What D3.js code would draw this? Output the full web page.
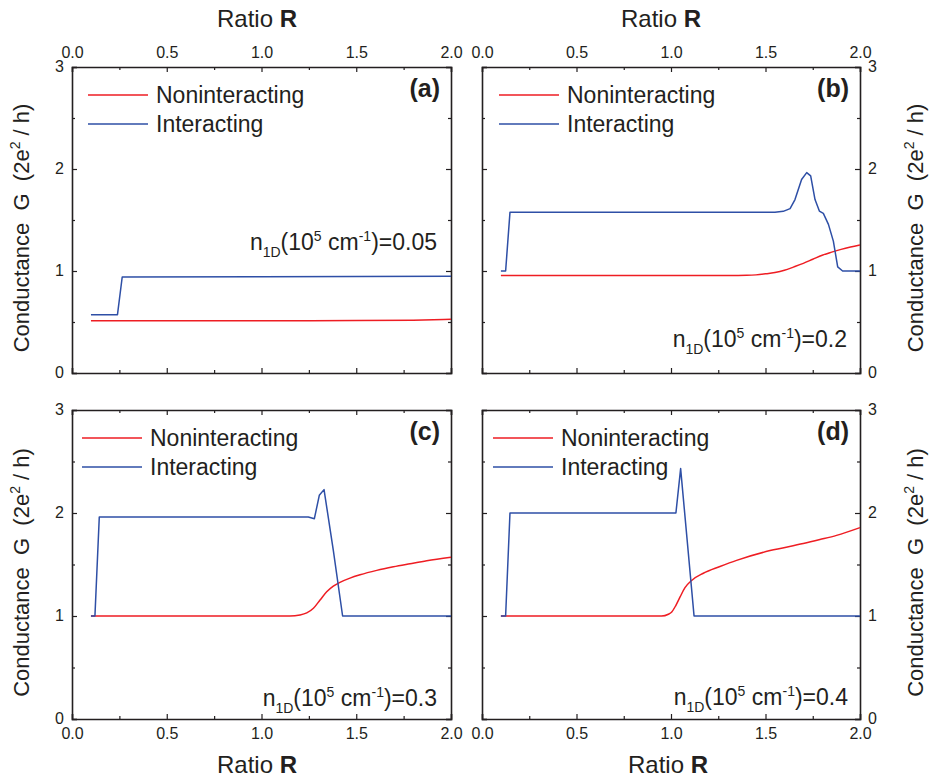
<!DOCTYPE html>
<html>
<head>
<meta charset="utf-8">
<script src="https://cdn.jsdelivr.net/npm/d3@7"></script>
<style>
  html, body { margin: 0; padding: 0; background: #fff; }
  svg { display: block; }
  text { font-family: "Liberation Sans", Arial, Helvetica, sans-serif; fill: #231f20; }
</style>
</head>
<body>
<svg id="chart" width="932" height="781"></svg>
<script>
// ---- data ---------------------------------------------------------------
const ratioTicks = [0, 0.5, 1.0, 1.5, 2.0];
const ratioMinor = [0.25, 0.75, 1.25, 1.75];
const gTicks = [0, 1, 2, 3];
const gMinor = [0.5, 1.5, 2.5];
const panelLabels = ["(a)", "(b)", "(c)", "(d)"];
const densities = ["0.05", "0.2", "0.3", "0.4"];
const seriesNames = ["Noninteracting", "Interacting"];

// (a) n1D = 0.05
const rA_non = [0.1, 0.5, 1.0, 1.5, 1.8, 2.0];
const gA_non = [0.513, 0.513, 0.513, 0.514, 0.518, 0.526];
const rA_int = [0.1, 0.24, 0.265, 1.0, 2.0];
const gA_int = [0.572, 0.572, 0.941, 0.943, 0.948];

// (b) n1D = 0.2
const rB_non = [0.1, 0.5, 1.0, 1.3, 1.4, 1.45, 1.5, 1.55, 1.6, 1.65, 1.7, 1.75, 1.8, 1.85, 1.9, 1.95, 2.0];
const gB_non = [0.955, 0.955, 0.955, 0.956, 0.958, 0.962, 0.972, 0.985, 1.007, 1.04, 1.075, 1.115, 1.155, 1.185, 1.212, 1.235, 1.255];
const rB_int = [0.1, 0.125, 0.148, 1.0, 1.55, 1.594, 1.63, 1.656, 1.691, 1.718, 1.739, 1.762, 1.785, 1.806, 1.833, 1.859, 1.882, 1.908, 2.0];
const gB_int = [1.0, 1.0, 1.575, 1.575, 1.576, 1.585, 1.612, 1.70, 1.897, 1.965, 1.932, 1.70, 1.588, 1.565, 1.457, 1.293, 1.04, 1.0, 1.0];

// (c) n1D = 0.3
const rC_non = [0.1, 0.6, 1.15, 1.203, 1.239, 1.274, 1.309, 1.344, 1.379, 1.414, 1.467, 1.52, 1.608, 1.696, 1.784, 1.872, 2.0];
const gC_non = [1.0, 1.0, 1.0, 1.01, 1.03, 1.075, 1.155, 1.235, 1.29, 1.327, 1.368, 1.40, 1.443, 1.478, 1.508, 1.537, 1.57];
const rC_int = [0.1, 0.121, 0.144, 1.247, 1.279, 1.305, 1.33, 1.379, 1.428, 2.0];
const gC_int = [1.0, 1.0, 1.961, 1.961, 1.945, 2.172, 2.227, 1.638, 1.0, 1.0];

// (d) n1D = 0.4
const rD_non = [0.1, 0.6, 0.95, 0.986, 1.004, 1.026, 1.048, 1.074, 1.109, 1.171, 1.259, 1.347, 1.524, 1.7, 1.788, 1.876, 2.0];
const gD_non = [1.0, 1.0, 1.0, 1.017, 1.039, 1.104, 1.185, 1.275, 1.345, 1.415, 1.48, 1.54, 1.635, 1.703, 1.742, 1.783, 1.858];
const rD_int = [0.1, 0.125, 0.148, 1.026, 1.051, 1.122, 2.0];
const gD_int = [1.0, 1.0, 2.0, 2.0, 2.431, 1.0, 1.0];

const seriesData = [
  [[rA_non, gA_non], [rA_int, gA_int]],
  [[rB_non, gB_non], [rB_int, gB_int]],
  [[rC_non, gC_non], [rC_int, gC_int]],
  [[rD_non, gD_non], [rD_int, gD_int]]
];

// ---- layout -------------------------------------------------------------
const frames = [
  { x0: 72,  x1: 451, y0: 67,  y1: 373, xLab: "top",    yLab: "left",  legX: 88,  noteX: 437, noteY: 250 },
  { x0: 482, x1: 860, y0: 67,  y1: 373, xLab: "top",    yLab: "right", legX: 499, noteX: 847, noteY: 347 },
  { x0: 72,  x1: 451, y0: 410, y1: 719, xLab: "bottom", yLab: "left",  legX: 82,  noteX: 437, noteY: 706 },
  { x0: 482, x1: 860, y0: 410, y1: 719, xLab: "bottom", yLab: "right", legX: 493, noteX: 848, noteY: 705 }
];
const colors = ["#ee1d23", "#2e4fa6"];
const axisColor = "#231f20";

const svg = d3.select("#chart");

frames.forEach((f, i) => {
  const x = d3.scaleLinear().domain([0, 2]).range([f.x0, f.x1]);
  const y = d3.scaleLinear().domain([0, 3]).range([f.y1, f.y0]);
  const g = svg.append("g");

  // axes on all four sides, ticks pointing inward
  const fmtX = d3.format(".1f");
  const fmtY = d3.format("d");
  const sides = [
    { make: () => d3.axisTop(x),    tr: `translate(0,${f.y0})`, major: ratioTicks, minor: ratioMinor, show: f.xLab === "top",    fmt: fmtX, pad: 9,  vert: false },
    { make: () => d3.axisBottom(x), tr: `translate(0,${f.y1})`, major: ratioTicks, minor: ratioMinor, show: f.xLab === "bottom", fmt: fmtX, pad: 9,  vert: false },
    { make: () => d3.axisLeft(y),   tr: `translate(${f.x0},0)`, major: gTicks,     minor: gMinor,     show: f.yLab === "left",   fmt: fmtY, pad: 8,  vert: true },
    { make: () => d3.axisRight(y),  tr: `translate(${f.x1},0)`, major: gTicks,     minor: gMinor,     show: f.yLab === "right",  fmt: fmtY, pad: 8,  vert: true }
  ];
  sides.forEach(s => {
    const ax = g.append("g").attr("transform", s.tr)
      .call(s.make().tickValues(s.major).tickSize(-5).tickPadding(s.pad)
        .tickFormat(s.show ? s.fmt : () => ""));
    ax.select(".domain").attr("stroke", axisColor).attr("stroke-width", 1.6);
    ax.selectAll(".tick line").attr("stroke", axisColor).attr("stroke-width", 1.2);
    const lbl = ax.selectAll(".tick text").attr("font-size", 16).attr("fill", "#231f20")
      .style("font-family", "'Liberation Sans', Arial, sans-serif");
    if (s.vert) lbl.attr("dy", "0.26em");
  });
  // minor ticks
  sides.forEach(s => {
    const m = g.append("g").attr("transform", s.tr)
      .call(s.make().tickValues(s.minor).tickSize(-3).tickFormat(() => ""));
    m.select(".domain").remove();
    m.selectAll(".tick line").attr("stroke", axisColor).attr("stroke-width", 1.2);
  });

  // series lines
  seriesData[i].forEach((sd, k) => {
    const pts = sd[0].map((r, j) => [r, sd[1][j]]);
    const line = d3.line()
      .x(d => x(d[0])).y(d => y(d[1]))
      .curve(k === 0 ? d3.curveMonotoneX : d3.curveLinear);
    g.append("path")
      .attr("d", line(pts))
      .attr("fill", "none")
      .attr("stroke", colors[k])
      .attr("stroke-width", 1.5)
      .attr("stroke-linejoin", "round");
  });

  // legend
  const legY = f.y0 + 28;
  seriesNames.forEach((name, k) => {
    const ly = legY + k * 29;
    g.append("line")
      .attr("x1", f.legX).attr("x2", f.legX + 60)
      .attr("y1", ly).attr("y2", ly)
      .attr("stroke", colors[k]).attr("stroke-width", 1.5);
    g.append("text")
      .attr("x", f.legX + 68).attr("y", ly + 7.5)
      .attr("font-size", 23)
      .text(name);
  });

  // panel label
  g.append("text")
    .attr("x", f.x1 - 11).attr("y", f.y0 + 30)
    .attr("text-anchor", "end")
    .attr("font-size", 25).attr("font-weight", "bold")
    .text(panelLabels[i]);

  // density annotation
  const t = g.append("text")
    .attr("x", f.noteX).attr("y", f.noteY)
    .attr("text-anchor", "end")
    .attr("font-size", 23);
  t.append("tspan").text("n");
  t.append("tspan").attr("font-size", 14).attr("dy", 7).text("1D");
  t.append("tspan").attr("dy", -7).text("(10");
  t.append("tspan").attr("font-size", 14).attr("dy", -9).text("5");
  t.append("tspan").attr("dy", 9).text("\u00a0cm");
  t.append("tspan").attr("font-size", 14).attr("dy", -9).text("-1");
  t.append("tspan").attr("dy", 9).text(")=" + densities[i]);

  // x title
  const xt = g.append("text")
    .attr("x", i % 2 === 0 ? 257 : (f.xLab === "top" ? 661 : 668))
    .attr("y", f.xLab === "top" ? 27 : 773)
    .attr("text-anchor", "middle")
    .attr("font-size", 24);
  xt.append("tspan").text("Ratio ");
  xt.append("tspan").attr("font-weight", "bold").text("R");

  // y title
  const cy = (f.y0 + f.y1) / 2 + 8;
  const tx = f.yLab === "left" ? 29 : 923;
  const yt = g.append("text")
    .attr("transform", `translate(${tx},${cy}) rotate(-90)`)
    .attr("text-anchor", "middle")
    .attr("font-size", 22);
  yt.append("tspan").text("Conductance\u00a0\u00a0G\u00a0\u00a0(2e");
  yt.append("tspan").attr("font-size", 14).attr("dy", -9).text("2");
  yt.append("tspan").attr("dy", 9).text("\u00a0/\u00a0h)");
});
</script>
</body>
</html>
